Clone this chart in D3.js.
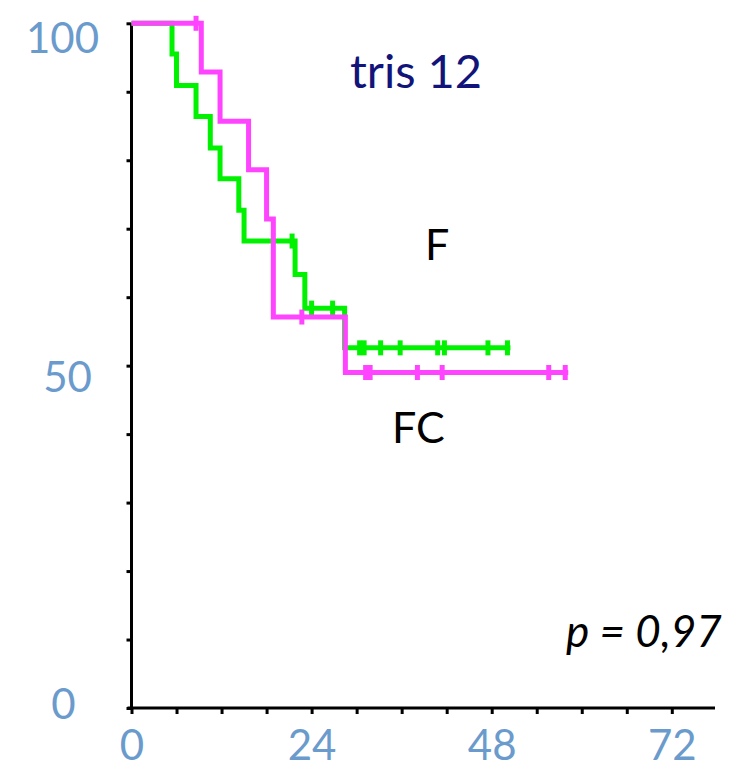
<!DOCTYPE html>
<html>
<head>
<meta charset="utf-8">
<script src="https://cdn.jsdelivr.net/npm/d3@7"></script>
<style>
  html, body { margin: 0; padding: 0; background: #ffffff; }
  svg { display: block; }
  text { font-family: Lato, "Open Sans", sans-serif; }
</style>
</head>
<body>
<script>
// Kaplan-Meier curves, trisomy 12 subgroup: F vs FC arms (months, % event-free)

// F arm (green)
const fEventTimes  = [5.4, 6.0, 8.6, 10.5, 11.8, 14.3, 15.0, 21.8, 23.1, 28.4];
const fSurvival    = [95.5, 90.9, 86.4, 81.8, 77.3, 72.7, 68.2, 63.3, 58.4, 52.6];
const fCensorTimes = [21.4, 24.0, 26.8, 30.4, 31.0, 33.2, 35.8, 40.8, 41.7, 47.5, 50.1];
const fLastTime    = 50.5;

// FC arm (magenta)
const fcEventTimes  = [9.3, 11.8, 15.6, 18.0, 18.9, 28.5];
const fcSurvival    = [92.9, 85.7, 78.6, 71.4, 57.1, 49.0];
const fcCensorTimes = [8.6, 22.7, 31.2, 31.8, 38.1, 41.4, 55.6, 57.8];
const fcLastTime    = 58.2;

// Axes
const xTicks = [0, 6, 12, 18, 24, 30, 36, 42, 48, 54, 60, 66, 72];
const xTickLabels = [0, 24, 48, 72];
const yTicks = [0, 10, 20, 30, 40, 50, 60, 70, 80, 90, 100];
const yTickLabels = [0, 50, 100];

// Text annotations
const titleText = "tris 12";
const fLabel = "F";
const fcLabel = "FC";
const pValueText = "p = 0,97";

const W = 742, H = 771;
const svg = d3.select("body").append("svg").attr("width", W).attr("height", H);

const x = d3.scaleLinear().domain([0, 72]).range([131.5, 671.8]);
const y = d3.scaleLinear().domain([0, 100]).range([708, 23.3]);

const labelColor = "#6a9bcc";

// ---- y axis ----
const yAxis = svg.append("g")
  .attr("transform", `translate(${x(0)},0)`)
  .call(d3.axisLeft(y).tickValues(yTicks).tickSize(5).tickSizeOuter(0)
    .tickFormat(d => yTickLabels.includes(d) ? String(d) : ""));
yAxis.select(".domain").attr("stroke", "#000").attr("stroke-width", 3)
  .attr("d", `M0,${y(100)}V${y(0) + 1.5}`);
yAxis.selectAll(".tick line").attr("stroke", "#000").attr("stroke-width", 3);
// label offsets (baseline below the tick) per labelled value
const yLabelShift = { 100: 28.7, 50: 25.4, 0: 10 };
const yLabelX = { 100: -69, 50: -64, 0: -68 };
yAxis.selectAll(".tick text")
  .attr("x", d => yLabelX[d] || 0)
  .attr("dy", null)
  .attr("y", d => yLabelShift[d] || 0)
  .attr("text-anchor", "middle")
  .attr("fill", labelColor)
  .attr("font-size", 42)
  .attr("font-family", "Lato, 'Open Sans', sans-serif");

// ---- x axis ----
const xAxis = svg.append("g")
  .attr("transform", `translate(0,${y(0)})`)
  .call(d3.axisBottom(x).tickValues(xTicks).tickSize(6).tickSizeOuter(0)
    .tickFormat(d => xTickLabels.includes(d) ? String(d) : ""));
xAxis.select(".domain").attr("stroke", "#000").attr("stroke-width", 3)
  .attr("d", `M${x(0) - 4},0H715`);
xAxis.selectAll(".tick line").attr("stroke", "#000").attr("stroke-width", 3);
xAxis.selectAll(".tick text")
  .attr("dy", null)
  .attr("y", 52)
  .attr("text-anchor", "middle")
  .attr("fill", labelColor)
  .attr("font-size", 42)
  .attr("font-family", "Lato, 'Open Sans', sans-serif");

// ---- survival curves ----
function kmPoints(times, surv, lastTime) {
  const pts = [[0, 100]];
  times.forEach((t, i) => pts.push([t, surv[i]]));
  pts.push([lastTime, surv[surv.length - 1]]);
  return pts;
}
function survAt(times, surv, t) {
  let s = 100;
  times.forEach((et, i) => { if (et <= t) s = surv[i]; });
  return s;
}
const line = d3.line().x(d => x(d[0])).y(d => y(d[1])).curve(d3.curveStepAfter);

function drawArm(times, surv, censors, lastTime, color) {
  const g = svg.append("g");
  g.append("path")
    .datum(kmPoints(times, surv, lastTime))
    .attr("d", line)
    .attr("fill", "none")
    .attr("stroke", color)
    .attr("stroke-width", 5)
    .attr("stroke-linejoin", "miter");
  g.selectAll("line.censor")
    .data(censors)
    .join("line")
    .attr("class", "censor")
    .attr("x1", d => x(d)).attr("x2", d => x(d))
    .attr("y1", d => y(survAt(times, surv, d)) - 7.5)
    .attr("y2", d => y(survAt(times, surv, d)) + 7.5)
    .attr("stroke", color)
    .attr("stroke-width", 5);
}

drawArm(fEventTimes, fSurvival, fCensorTimes, fLastTime, "#00f200");
drawArm(fcEventTimes, fcSurvival, fcCensorTimes, fcLastTime, "#ff44ff");

// ---- annotations ----
svg.append("text").attr("x", 416).attr("y", 88)
  .attr("text-anchor", "middle").attr("font-size", 47).attr("fill", "#12147a")
  .text(titleText);
svg.append("text").attr("x", 425).attr("y", 260)
  .attr("font-size", 43).attr("fill", "#000").text(fLabel);
svg.append("text").attr("x", 392).attr("y", 443)
  .attr("font-size", 43).attr("fill", "#000").text(fcLabel);
svg.append("text").attr("x", 566).attr("y", 647)
  .attr("font-size", 44).attr("font-style", "italic").attr("fill", "#000").text(pValueText);
</script>
</body>
</html>
